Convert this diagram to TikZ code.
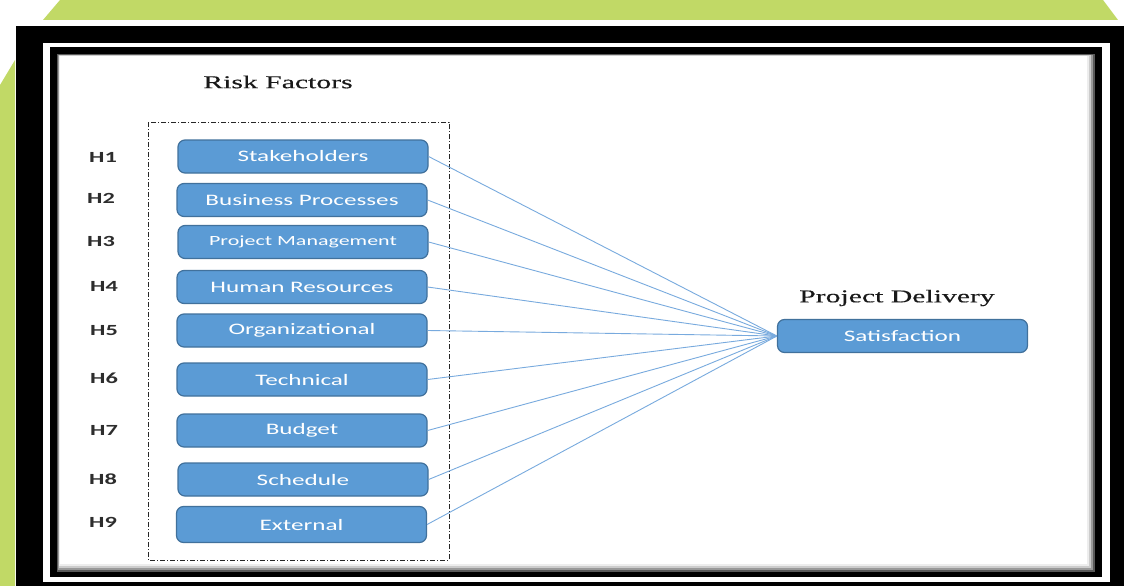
\documentclass[tikz,border=0pt]{standalone}
\usepackage{fontspec}
\newfontfamily\titlefont[FakeStretch=1.65,FakeBold=0.4]{Liberation Serif}
\newfontfamily\boxfont[FakeStretch=1.57]{Carlito}
\definecolor{framegreen}{RGB}{193,217,102}
\definecolor{boxblue}{RGB}{91,155,213}
\definecolor{boxedge}{RGB}{65,113,156}
\definecolor{linkblue}{RGB}{120,170,222}
\definecolor{hgray}{RGB}{45,45,45}
\begin{document}
\begin{tikzpicture}[x=1pt,y=-1pt,
  factor/.style={draw=boxedge,line width=1.2pt,fill=boxblue,rounded corners=7pt,
    minimum width=250pt,minimum height=33pt,inner sep=0pt,text=white,
    font=\boxfont\fontsize{16}{18}\selectfont},
  hlabel/.style={text=hgray,font=\boxfont\bfseries\fontsize{15.5}{18}\selectfont,inner sep=0pt},
  heading/.style={text=black!90,font=\titlefont\fontsize{18}{20}\selectfont,inner sep=0pt},
  link/.style={draw=linkblue,line width=0.9pt}]
\useasboundingbox (0,0) rectangle (1124,586);
% background frame
\fill[white] (0,0) rectangle (1124,586);
\fill[framegreen] (60,0) -- (1103,0) -- (1118,20) -- (43,20) -- cycle;
\fill[framegreen] (15,60) -- (15,586) -- (0,586) -- (0,85) -- cycle;
\fill[black] (16,26) rectangle (1124,586);
\fill[white] (43,43) rectangle (1110,582);
\fill[black] (50,47) rectangle (1102,577);
\fill[black!65] (57,54) rectangle (1095,572);
\fill[black!40] (58,55) rectangle (1093,570);
\fill[black!20] (58.5,55.5) rectangle (1091,568);
\fill[black!7] (59,56) rectangle (1089,566);
\fill[white] (59.5,56.5) rectangle (1087,564);
% dashed group
\draw[black!85,line width=0.8pt,dash pattern=on 5pt off 2pt on 1pt off 2pt]
  (148,122) rectangle (449,560);
% headings
\node[heading] (rf) at (278,82) {Risk Factors};
\node[heading] (pd) at (897,298) {Project Delivery};
% factor boxes
\node[factor] (b1) at (303,156.5) {Stakeholders};
\node[factor] (b2) at (302,200) {Business Processes};
\node[factor,font=\boxfont\fontsize{14}{16}\selectfont] (b3) at (303,242) {Project Management};
\node[factor] (b4) at (302,287) {Human Resources};
\node[factor] (b5) at (302,330.5) {Organizational};
\node[factor] (b6) at (302,379.5) {Technical};
\node[factor] (b7) at (302,430.5) {Budget};
\node[factor] (b8) at (303,479.5) {Schedule};
\node[factor,minimum height=36pt] (b9) at (301.5,524.5) {External};
\node[factor] (sat) at (902.5,336) {Satisfaction};
% hypothesis labels
\node[hlabel] (h1) at (103,157) {H1};
\node[hlabel] (h2) at (101,198) {H2};
\node[hlabel] (h3) at (101,241) {H3};
\node[hlabel] (h4) at (104,286) {H4};
\node[hlabel] (h5) at (104,331) {H5};
\node[hlabel] (h6) at (104,378) {H6};
\node[hlabel] (h7) at (104,430) {H7};
\node[hlabel] (h8) at (103,479) {H8};
\node[hlabel] (h9) at (103,522) {H9};
% connectors
\foreach \b in {b1,b2,b3,b4,b5,b6,b7,b8,b9}
  \draw[link] (\b.east) -- (sat.west);
\end{tikzpicture}
\end{document}
